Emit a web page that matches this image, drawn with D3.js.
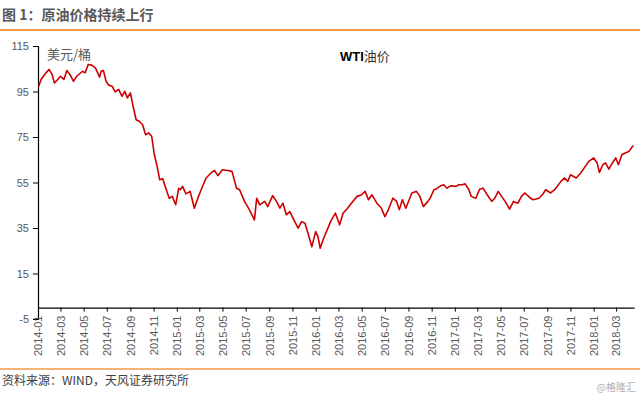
<!DOCTYPE html>
<html>
<head>
<meta charset="utf-8">
<script src="https://cdn.jsdelivr.net/npm/d3@7"></script>
<style>
  body { margin: 0; background: #fff; }
  svg text { font-family: "Liberation Sans", Arial, "Noto Sans CJK SC", sans-serif; }
  .cjk { font-family: "Noto Sans CJK SC", "Liberation Sans", sans-serif; }
</style>
</head>
<body>
<div id="container"></div>
<script>
// WTI price readings (USD/bbl)
var dates = [
  '2014-01-03','2014-01-09','2014-01-22','2014-01-30','2014-02-07','2014-02-13','2014-02-22','2014-03-01',
  '2014-03-10','2014-03-18','2014-03-26','2014-04-04','2014-04-13','2014-04-28','2014-05-05','2014-05-13',
  '2014-05-22','2014-06-01','2014-06-12','2014-06-16','2014-06-22','2014-06-29','2014-07-06','2014-07-15',
  '2014-07-23','2014-08-01','2014-08-10','2014-08-17','2014-08-24','2014-09-01','2014-09-07','2014-09-16',
  '2014-09-24','2014-10-03','2014-10-11','2014-10-19','2014-10-27','2014-11-03','2014-11-11','2014-11-17',
  '2014-11-25','2014-12-03','2014-12-12','2014-12-20','2014-12-29','2015-01-06','2015-01-10','2015-01-16',
  '2015-01-25','2015-02-05','2015-02-16','2015-02-27','2015-03-06','2015-03-19','2015-04-01','2015-04-10',
  '2015-04-19','2015-05-01','2015-05-15','2015-05-26','2015-06-07','2015-06-15','2015-06-28','2015-07-11',
  '2015-07-24','2015-07-30','2015-08-07','2015-08-20','2015-08-28','2015-09-10','2015-09-20','2015-09-29',
  '2015-10-07','2015-10-16','2015-10-25','2015-11-07','2015-11-16','2015-11-25','2015-12-04','2015-12-13',
  '2015-12-22','2016-01-01','2016-01-07','2016-01-13','2016-01-22','2016-02-04','2016-02-09','2016-02-22',
  '2016-03-04','2016-03-13','2016-03-25','2016-04-04','2016-04-19','2016-05-01','2016-05-10','2016-05-19',
  '2016-05-28','2016-06-10','2016-06-22','2016-07-01','2016-07-10','2016-07-22','2016-08-01','2016-08-08',
  '2016-08-16','2016-08-25','2016-09-10','2016-09-22','2016-10-01','2016-10-10','2016-10-22','2016-10-28',
  '2016-11-07','2016-11-13','2016-11-25','2016-12-03','2016-12-11','2016-12-22','2017-01-04','2017-01-12',
  '2017-01-20','2017-01-28','2017-02-07','2017-02-13','2017-02-25','2017-03-07','2017-03-16','2017-03-27',
  '2017-04-08','2017-04-16','2017-04-25','2017-05-04','2017-05-13','2017-05-25','2017-06-04','2017-06-16',
  '2017-06-25','2017-07-04','2017-07-19','2017-07-26','2017-08-10','2017-08-19','2017-08-28','2017-09-10',
  '2017-09-22','2017-10-07','2017-10-16','2017-10-25','2017-11-01','2017-11-16','2017-11-28','2017-12-10',
  '2017-12-19','2018-01-01','2018-01-10','2018-01-16','2018-01-25','2018-02-01','2018-02-10','2018-02-19',
  '2018-02-28','2018-03-07','2018-03-16','2018-03-25','2018-04-04','2018-04-13','2018-04-16'
]
var wti = [
  97.3, 100.3, 103.2, 104.7, 102.5, 98.8, 100.3, 101.7,
  100.3, 104.2, 102.5, 99.5, 101.7, 103.9, 103.2, 106.9,
  106.6, 105.4, 101.3, 103.9, 104.2, 99.5, 97.8, 97.3,
  94.8, 95.9, 92.9, 95.1, 92.2, 94.4, 89.3, 82.6,
  81.9, 80.4, 76.0, 76.8, 75.3, 67.2, 61.4, 56.2,
  56.7, 52.5, 48.1, 48.9, 45.2, 52.5, 51.8, 53.3,
  50.0, 51.1, 43.7, 48.9, 51.8, 57.0, 59.2, 60.3,
  58.0, 60.6, 60.3, 59.9, 52.5, 51.8, 46.7, 43.0,
  38.6, 48.1, 45.2, 46.7, 44.4, 49.2, 46.7, 43.7,
  45.9, 40.8, 42.2, 37.8, 34.9, 37.8, 37.1, 32.0,
  26.8, 33.4, 31.2, 26.1, 30.5, 35.6, 37.8, 41.5,
  36.4, 41.5, 43.7, 45.9, 48.9, 49.6, 51.1, 47.4,
  49.6, 45.9, 43.7, 40.0, 43.0, 48.1, 46.7, 43.0,
  47.4, 43.7, 50.4, 51.1, 48.9, 44.4, 46.7, 48.1,
  51.8, 52.1, 53.6, 54.0, 52.5, 53.6, 53.3, 54.0,
  54.0, 54.4, 51.8, 48.9, 48.1, 52.0, 52.5, 49.6,
  46.7, 48.1, 51.1, 48.9, 46.7, 43.3, 46.7, 45.9,
  48.9, 50.4, 48.1, 47.4, 48.1, 49.6, 51.8, 50.4,
  52.1, 55.5, 57.0, 55.5, 58.4, 57.0, 59.2, 62.1,
  64.3, 65.8, 63.6, 59.4, 62.8, 63.6, 60.9, 63.6,
  65.8, 62.8, 67.2, 68.0, 68.7, 70.9, 71.2
]
var yTicks = [-5, 15, 35, 55, 75, 95, 115]
var xTickLabels = [
  '2014-01','2014-03','2014-05','2014-07','2014-09','2014-11',
  '2015-01','2015-03','2015-05','2015-07','2015-09','2015-11',
  '2016-01','2016-03','2016-05','2016-07','2016-09','2016-11',
  '2017-01','2017-03','2017-05','2017-07','2017-09','2017-11',
  '2018-01','2018-03'
]

var width = 640, height = 397
var parseDate = d3.timeParse('%Y-%m-%d'),
    parseMonth = d3.timeParse('%Y-%m')

var svg = d3.select('#container')
    .append('svg')
    .attr('width', width)
    .attr('height', height)
    .style('display', 'block')

var x = d3.scaleTime()
    .domain([parseDate('2014-01-01'), parseDate('2018-04-17')])
    .range([38, 634])
var y = d3.scaleLinear().domain([-5, 115]).range([319, 46])

// header + footer
svg.append('text')
    .attr('class', 'cjk')
    .attr('x', 2).attr('y', 20)
    .attr('font-size', 14).attr('font-weight', 'bold')
    .attr('fill', '#595959')
    .text('图 1：原油价格持续上行')
svg.append('line')
    .attr('x1', 0).attr('x2', width).attr('y1', 30).attr('y2', 30)
    .attr('stroke', '#F39A4A').attr('stroke-width', 2)
svg.append('line')
    .attr('x1', 0).attr('x2', width).attr('y1', 369).attr('y2', 369)
    .attr('stroke', '#F39A4A').attr('stroke-width', 1.5)
svg.append('text')
    .attr('class', 'cjk')
    .attr('x', 2).attr('y', 385)
    .attr('font-size', 12).attr('fill', '#404040')
    .text('资料来源：WIND，天风证券研究所')
svg.append('text')
    .attr('class', 'cjk')
    .attr('x', 636).attr('y', 391)
    .attr('text-anchor', 'end')
    .attr('font-size', 10).attr('fill', '#b0b0b0')
    .text('@格隆汇')

// y axis
var yAxis = svg.append('g')
    .attr('transform', 'translate(38,0)')
    .call(d3.axisLeft(y).tickValues(yTicks).tickSize(5).tickPadding(4)
        .tickFormat(function(d) { return String(d) }))
yAxis.select('.domain').attr('stroke', '#000').attr('stroke-width', 1.2)
yAxis.selectAll('.tick line').attr('stroke', '#000')
yAxis.selectAll('text')
    .attr('font-size', 11).attr('fill', '#595959')
    .style('font-family', '"Liberation Sans", Arial, sans-serif')

// x axis at value 0
var xAxis = svg.append('g')
    .attr('transform', 'translate(0,' + y(0) + ')')
    .call(d3.axisBottom(x)
        .tickValues(xTickLabels.map(function(d) { return parseMonth(d) }))
        .tickFormat(d3.timeFormat('%Y-%m'))
        .tickSize(4)
        .tickSizeOuter(0))
xAxis.select('.domain').attr('stroke', '#000').attr('stroke-width', 1.2)
xAxis.selectAll('.tick line').attr('stroke', '#000')
xAxis.selectAll('text')
    .attr('font-size', 11).attr('fill', '#595959')
    .style('font-family', '"Liberation Sans", Arial, sans-serif')
    .attr('text-anchor', 'end')
    .attr('transform', 'rotate(-90)')
    .attr('x', -8).attr('y', 0).attr('dy', '0.35em')

// unit + legend label
svg.append('text')
    .attr('class', 'cjk')
    .attr('x', 47).attr('y', 59)
    .attr('font-size', 13).attr('fill', '#595959')
    .text('美元/桶')
var leg = svg.append('text')
    .attr('x', 340).attr('y', 61)
    .attr('font-size', 13).attr('fill', '#000')
leg.append('tspan').attr('font-weight', 'bold')
    .style('font-family', '"Liberation Sans", Arial, sans-serif')
    .text('WTI')
leg.append('tspan').attr('class', 'cjk').attr('fill', '#333').text('油价')

// line
var series = dates.map(function(d, i) {
    return { date: parseDate(d), value: wti[i] }
})
var line = d3.line()
    .x(function(d) { return x(d.date) })
    .y(function(d) { return y(d.value) })

svg.append('path')
    .datum(series)
    .attr('fill', 'none')
    .attr('stroke', '#CC0000')
    .attr('stroke-width', 1.6)
    .attr('stroke-linejoin', 'round')
    .attr('d', line)
</script>
</body>
</html>
